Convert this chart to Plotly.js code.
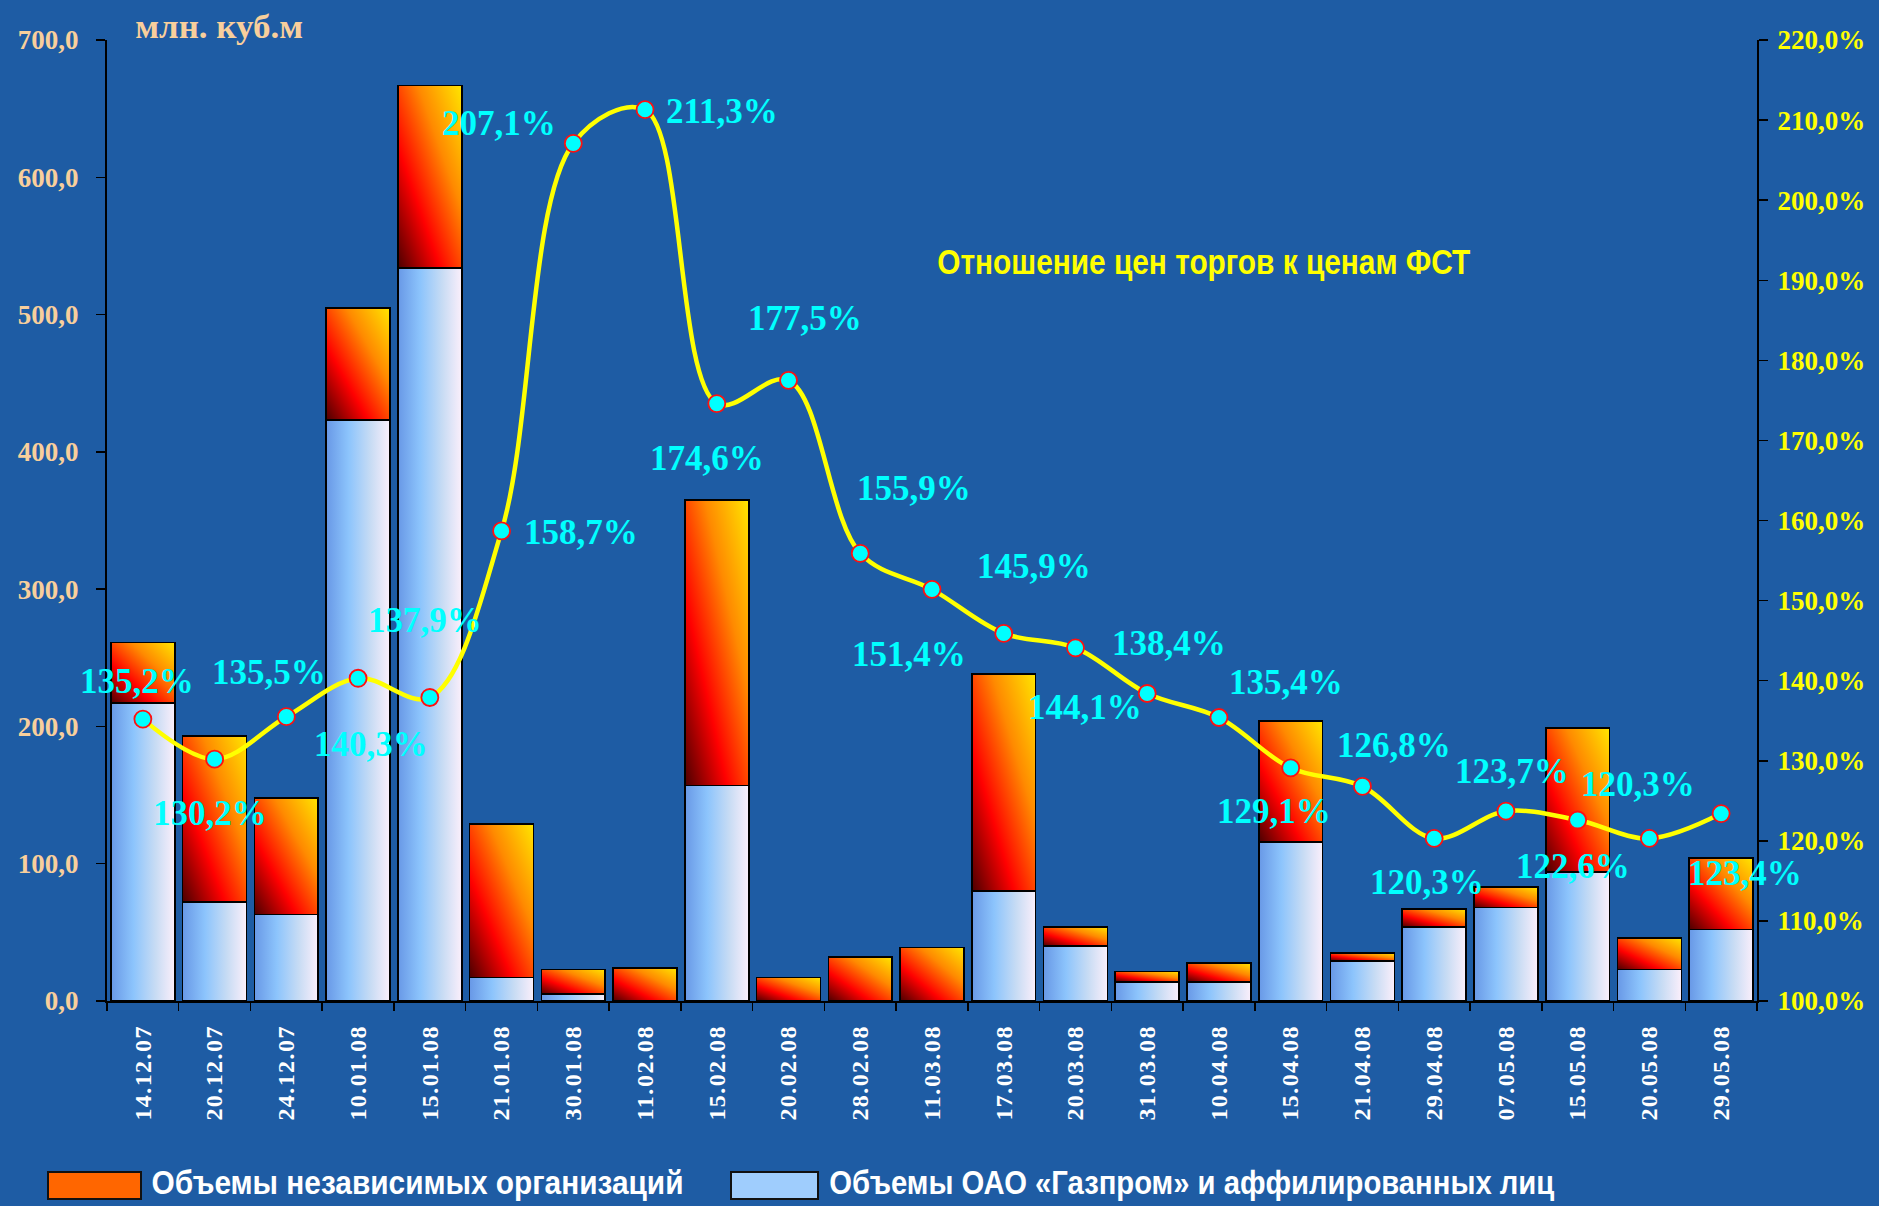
<!DOCTYPE html>
<html>
<head>
<meta charset="utf-8">
<script src="https://cdn.plot.ly/plotly-3.0.1.min.js"></script>
<style>
html,body{margin:0;padding:0;background:#1e5ca4;}
#chart{width:1879px;height:1206px;}
</style>
</head>
<body>
<div id="chart"></div>
<script>
// ---- data ----
const categories = ['14.12.07','20.12.07','24.12.07','10.01.08','15.01.08','21.01.08','30.01.08','11.02.08','15.02.08','20.02.08','28.02.08','11.03.08','17.03.08','20.03.08','31.03.08','10.04.08','15.04.08','21.04.08','29.04.08','07.05.08','15.05.08','20.05.08','29.05.08'];
const gazpromVolumes = [217, 72, 63, 423, 534, 17, 5, 0, 157, 0, 0, 0, 80, 40, 14, 14, 116, 29, 54, 68, 94, 23, 52];
const independentVolumes = [44, 121, 85, 82, 133, 112, 18, 24, 208, 17, 32, 39, 158, 14, 7.5, 13.5, 88, 6, 13, 15, 105, 23, 52];
const priceRatio = [135.2, 130.2, 135.5, 140.3, 137.9, 158.7, 207.1, 211.3, 174.6, 177.5, 155.9, 151.4, 145.9, 144.1, 138.4, 135.4, 129.1, 126.8, 120.3, 123.7, 122.6, 120.3, 123.4];
const legendLabels = ['Объемы независимых организаций', 'Объемы ОАО «Газпром» и аффилированных лиц'];
const lineTitle = 'Отношение цен торгов к ценам ФСТ';
const unitTitle = 'млн. куб.м';

// ---- label placement (pixel offsets, style only) ----
const labelShift = [[-6,38],[-5,-54],[-17,44],[13,-66],[-5,77],[79,-2],[-74,20],[77,-2],[-10,-55],[16,62],[54,65],[-23,-65],[30,67],[10,-60],[22,50],[67,35],[-17,-44],[32,41],[-7,-44],[6,40],[-5,-46],[-11,54],[24,-60]];

const W = 1879, H = 1206, ML = 107, MR = 122, MT = 40, MB = 205;
const PW = W - ML - MR, PH = H - MT - MB;
const px = x => (x - ML) / PW;
const py = y => (H - MB - y) / PH;

const bg = '#1e5ca4';
const serif = 'Liberation Serif, Times New Roman, serif';
const sans = 'Liberation Sans, Arial, sans-serif';

const fmt = v => v.toFixed(1).replace('.', ',') + '%';

const traces = [
  {
    type: 'bar', x: categories, y: gazpromVolumes, name: legendLabels[1],
    marker: {color: '#9cc8f8', line: {color: '#000', width: 1.6}},
    showlegend: false, hoverinfo: 'skip'
  },
  {
    type: 'bar', x: categories, y: independentVolumes, name: legendLabels[0],
    marker: {color: '#ff5500', line: {color: '#000', width: 1.6}},
    showlegend: false, hoverinfo: 'skip'
  },
  {
    type: 'scatter', mode: 'lines+markers', x: categories, y: priceRatio, yaxis: 'y2',
    line: {color: '#ffff00', width: 4.5, shape: 'spline', smoothing: 1},
    marker: {color: '#00ffff', size: 17, line: {color: '#ff1010', width: 1.8}},
    showlegend: false, hoverinfo: 'skip'
  }
];

const annotations = priceRatio.map((v, i) => ({
  x: categories[i], y: v, xref: 'x', yref: 'y2', text: fmt(v), showarrow: false,
  xanchor: 'center', yanchor: 'middle',
  xshift: labelShift[i][0], yshift: labelShift[i][1],
  font: {family: serif, size: 35, color: '#00ffff', weight: 'bold'}
}));

// fitted text: [text, centre x px, centre y px, target width px, font]
const fitted = [
  [lineTitle, 1204, 261, 533, {family: sans, size: 35, color: '#ffff00', weight: 'bold'}],
  [unitTitle, 219, 27, 168, {family: serif, size: 33, color: '#f8cf9c', weight: 'bold'}],
  [legendLabels[0], 417, 1182, 532, {family: sans, size: 34, color: '#ffffff', weight: 'bold'}],
  [legendLabels[1], 1192, 1182, 725, {family: sans, size: 34, color: '#ffffff', weight: 'bold'}]
];
fitted.forEach(f => annotations.push({
  xref: 'paper', yref: 'paper', x: px(f[1]), y: py(f[2]), xanchor: 'center', yanchor: 'middle',
  text: f[0], showarrow: false, font: f[4]
}));

const shapes = [
  {type: 'rect', xref: 'paper', yref: 'paper', x0: px(48), x1: px(141), y0: py(1199), y1: py(1172),
   fillcolor: '#ff6600', line: {color: '#111', width: 2}},
  {type: 'rect', xref: 'paper', yref: 'paper', x0: px(731), x1: px(818), y0: py(1199), y1: py(1172),
   fillcolor: '#9fcdfd', line: {color: '#111', width: 2}}
];

const layout = {
  width: W, height: H,
  margin: {l: ML, r: MR, t: MT, b: MB, pad: 0},
  paper_bgcolor: bg, plot_bgcolor: bg,
  barmode: 'stack', bargap: 0.11,
  separators: ', ',
  showlegend: false,
  xaxis: {
    type: 'category', range: [-0.5, categories.length - 0.5], autorange: false,
    tickangle: -90, tickson: 'boundaries',
    ticks: 'outside', ticklen: 8, tickwidth: 1.5, tickcolor: '#000',
    showline: true, linecolor: '#000', linewidth: 2, showgrid: false, zeroline: false,
    ticklabelstandoff: 14,
    tickfont: {family: serif, size: 24, color: '#ffffff', weight: 'bold'}
  },
  yaxis: {
    range: [0, 700], autorange: false, dtick: 100, tickformat: '.1f',
    ticks: 'outside', ticklen: 9, tickwidth: 1.5, tickcolor: '#000',
    showline: true, linecolor: '#000', linewidth: 2, showgrid: false, zeroline: false,
    ticklabelstandoff: 12,
    tickfont: {family: serif, size: 27, color: '#f8cf9c', weight: 'bold'}
  },
  yaxis2: {
    range: [100, 220], autorange: false, dtick: 10, tickformat: '.1f', ticksuffix: '%',
    overlaying: 'y', side: 'right',
    ticks: 'outside', ticklen: 9, tickwidth: 1.5, tickcolor: '#000',
    showline: true, linecolor: '#000', linewidth: 2, showgrid: false, zeroline: false,
    ticklabelstandoff: 4,
    tickfont: {family: serif, size: 27, color: '#ffff00', weight: 'bold'}
  },
  annotations: annotations,
  shapes: shapes
};

function finish(gd) {
  const ns = 'http://www.w3.org/2000/svg';
  const svg = gd.querySelector('svg.main-svg');
  const defs = document.createElementNS(ns, 'defs');
  function grad(id, x1, y1, x2, y2, stops) {
    const g = document.createElementNS(ns, 'linearGradient');
    g.setAttribute('id', id);
    g.setAttribute('x1', x1); g.setAttribute('y1', y1);
    g.setAttribute('x2', x2); g.setAttribute('y2', y2);
    stops.forEach(s => {
      const st = document.createElementNS(ns, 'stop');
      st.setAttribute('offset', s[0]);
      st.setAttribute('stop-color', s[1]);
      g.appendChild(st);
    });
    defs.appendChild(g);
  }
  grad('gBlue', 0, 0, 1, 0, [[0, '#6898e6'], [0.35, '#8cc4fc'], [0.7, '#c8dcf4'], [1, '#fbeffb']]);
  grad('gOrange', 0, 1, 1, 0, [[0, '#4a0000'], [0.33, '#ff0000'], [0.66, '#ff8a00'], [1, '#ffe600']]);
  svg.insertBefore(defs, svg.firstChild);
  const barTraces = gd.querySelectorAll('.barlayer .trace');
  if (barTraces[0]) barTraces[0].querySelectorAll('path').forEach(p => { p.style.fill = 'url(#gBlue)'; });
  if (barTraces[1]) barTraces[1].querySelectorAll('path').forEach(p => { p.style.fill = 'url(#gOrange)'; });

  // squeeze / stretch texts to the widths seen in the reference
  gd.querySelectorAll('text.annotation-text').forEach(t => {
    const f = fitted.find(ff => ff[0] === t.textContent);
    if (f) {
      t.setAttribute('textLength', f[3]);
      t.setAttribute('lengthAdjust', 'spacingAndGlyphs');
    }
  });
  gd.querySelectorAll('.xtick text').forEach(t => {
    t.setAttribute('textLength', 94);
    t.setAttribute('lengthAdjust', 'spacing');
  });
}

Plotly.newPlot('chart', traces, layout, {displayModeBar: false, staticPlot: true}).then(finish);
</script>
</body>
</html>
